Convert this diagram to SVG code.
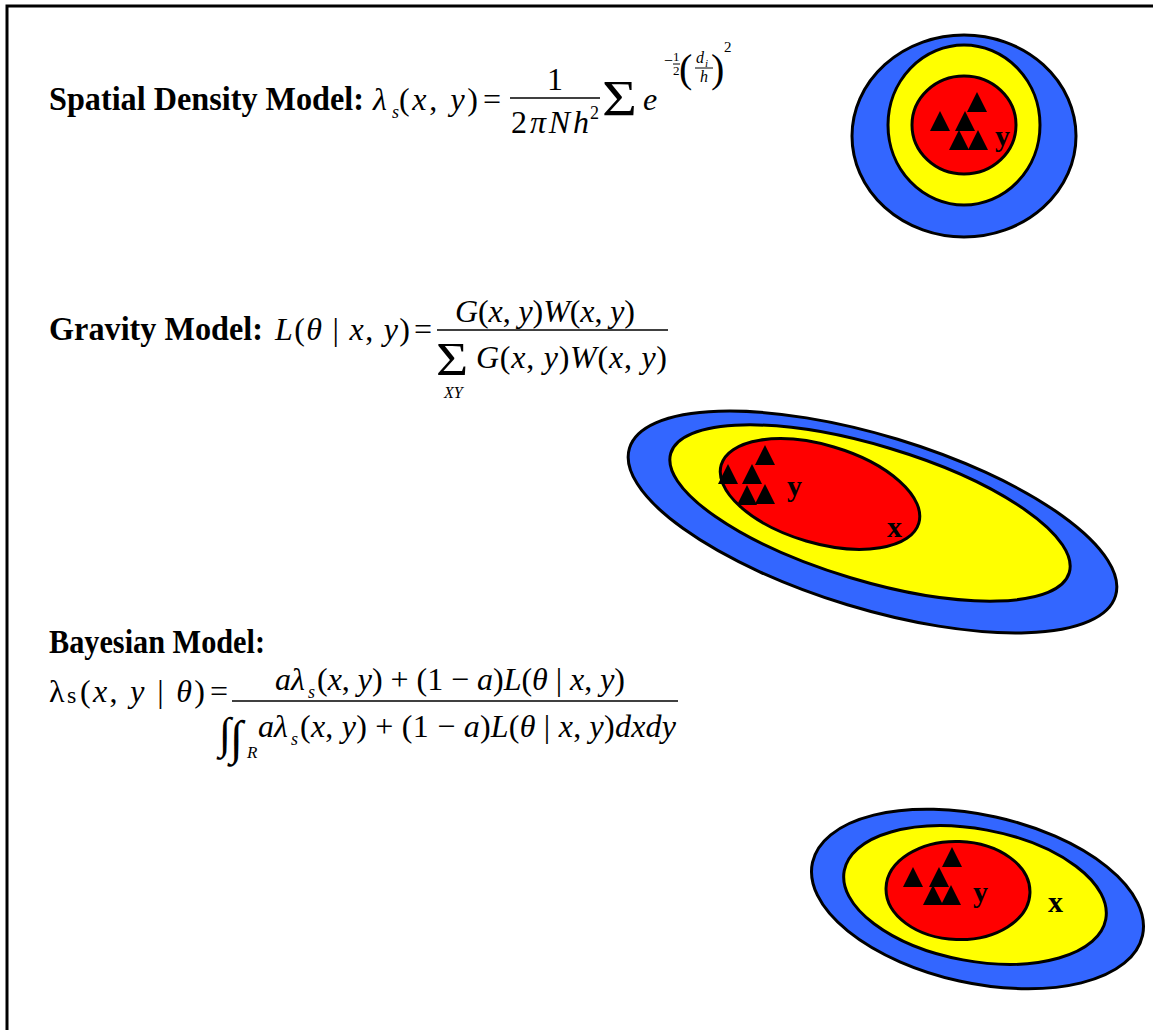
<svg xmlns="http://www.w3.org/2000/svg" width="1153" height="1030" viewBox="0 0 1153 1030">
<defs>
<style>
.s { font-family: "Liberation Serif", "Times New Roman", serif; fill: #000; }
.h { font-weight: bold; font-size: 33px; }
.m { font-size: 32px; }
.i { font-style: italic; }
.lbl { font-family: "Liberation Serif", "Times New Roman", serif; font-weight: bold; font-size: 30px; fill: #000; }
.ring { stroke: #000; stroke-width: 3; }
.blue { fill: #3366FF; }
.yellow { fill: #FFFF00; }
.red { fill: #FF0000; }
.bar { stroke: #000; stroke-width: 1.5; }
</style>
<path id="tri" d="M0,0 L10,20 L-10,20 Z" fill="#000"/>
</defs>
<rect x="0" y="0" width="1153" height="1030" fill="#fff"/>
<path d="M7,1030 V6 H1153" fill="none" stroke="#000" stroke-width="3"/>

<g id="eq-spatial">
<text class="s h" x="49" y="110" textLength="315" lengthAdjust="spacingAndGlyphs">Spatial Density Model:</text>
<text class="s m i" x="373" y="110">λ</text>
<text class="s i" x="392" y="118" font-size="18">s</text>
<text class="s m" x="399" y="110" textLength="79" lengthAdjust="spacing">(<tspan class="i">x</tspan>, <tspan class="i">y</tspan>)</text>
<text class="s m" x="483" y="110">=</text>
<text class="s m" x="555" y="90" text-anchor="middle">1</text>
<line class="bar" x1="510" y1="98" x2="600" y2="98"/>
<text class="s m" x="511" y="133" textLength="78" lengthAdjust="spacing">2<tspan class="i">πNh</tspan></text>
<text class="s" x="590" y="119" font-size="18">2</text>
<text class="s" font-size="50" transform="translate(602 115) scale(1.2 1)">Σ</text>
<text class="s m i" x="643" y="110">e</text>
<text class="s" x="664" y="66" font-size="16">−</text>
<text class="s" x="673" y="61" font-size="13">1</text>
<line x1="673" y1="64" x2="680" y2="64" stroke="#000" stroke-width="1"/>
<text class="s" x="673" y="75" font-size="13">2</text>
<text class="s" x="679" y="82" font-size="40">(</text>
<text class="s i" x="696" y="63" font-size="16">d</text>
<text class="s i" x="705" y="67" font-size="11">i</text>
<line x1="695" y1="68" x2="713" y2="68" stroke="#000" stroke-width="1"/>
<text class="s i" x="700" y="82" font-size="16">h</text>
<text class="s" x="711" y="82" font-size="40">)</text>
<text class="s" x="724" y="52" font-size="15">2</text>
</g>

<g id="eq-gravity">
<text class="s h" x="49" y="340" textLength="214" lengthAdjust="spacingAndGlyphs">Gravity Model:</text>
<text class="s m" x="275" y="340" textLength="135" lengthAdjust="spacing"><tspan class="i">L</tspan>(<tspan class="i">θ</tspan> | <tspan class="i">x</tspan>, <tspan class="i">y</tspan>)</text>
<text class="s m" x="414" y="340">=</text>
<text class="s m" x="455" y="322" textLength="180" lengthAdjust="spacing"><tspan class="i">G</tspan>(<tspan class="i">x</tspan>, <tspan class="i">y</tspan>)<tspan class="i">W</tspan>(<tspan class="i">x</tspan>, <tspan class="i">y</tspan>)</text>
<line class="bar" x1="437" y1="330" x2="668" y2="330"/>
<text class="s" font-size="46" transform="translate(436 375) scale(1.2 1)">Σ</text>
<text class="s i" x="444" y="398" font-size="16">XY</text>
<text class="s m" x="476" y="368" textLength="191" lengthAdjust="spacing"><tspan class="i">G</tspan>(<tspan class="i">x</tspan>, <tspan class="i">y</tspan>)<tspan class="i">W</tspan>(<tspan class="i">x</tspan>, <tspan class="i">y</tspan>)</text>
</g>

<g id="eq-bayesian">
<text class="s h" x="49" y="653" textLength="216" lengthAdjust="spacingAndGlyphs">Bayesian Model:</text>
<text class="s m" x="49" y="702">λ</text>
<text class="s" x="67" y="703" font-size="24">s</text>
<text class="s m" x="80" y="702" textLength="125" lengthAdjust="spacing">(<tspan class="i">x</tspan>, <tspan class="i">y</tspan> | <tspan class="i">θ</tspan>)</text>
<text class="s m" x="210" y="702">=</text>
<text class="s m i" x="275" y="690">a</text>
<text class="s m i" x="291" y="690">λ</text>
<text class="s i" x="308" y="698" font-size="18">s</text>
<text class="s m" x="317" y="690" textLength="308" lengthAdjust="spacing">(<tspan class="i">x</tspan>, <tspan class="i">y</tspan>) + (1 − <tspan class="i">a</tspan>)<tspan class="i">L</tspan>(<tspan class="i">θ</tspan> | <tspan class="i">x</tspan>, <tspan class="i">y</tspan>)</text>
<line class="bar" x1="232" y1="701" x2="678" y2="701"/>
<text class="s" x="219" y="748" font-size="44">∫</text>
<text class="s" x="230" y="754" font-size="48">∫</text>
<text class="s i" x="247" y="758" font-size="17">R</text>
<text class="s m i" x="258" y="737">a</text>
<text class="s m i" x="274" y="737">λ</text>
<text class="s i" x="291" y="745" font-size="18">s</text>
<text class="s m" x="300" y="737" textLength="376" lengthAdjust="spacing">(<tspan class="i">x</tspan>, <tspan class="i">y</tspan>) + (1 − <tspan class="i">a</tspan>)<tspan class="i">L</tspan>(<tspan class="i">θ</tspan> | <tspan class="i">x</tspan>, <tspan class="i">y</tspan>)<tspan class="i">dxdy</tspan></text>
</g>

<g id="target-spatial">
<ellipse class="ring blue" cx="964" cy="136" rx="112" ry="101"/>
<ellipse class="ring yellow" cx="964" cy="125" rx="76" ry="80"/>
<ellipse class="ring red" cx="964" cy="125" rx="52" ry="49"/>
<use href="#tri" x="977" y="92"/>
<use href="#tri" x="940" y="111"/>
<use href="#tri" x="965" y="111"/>
<use href="#tri" x="959" y="130"/>
<use href="#tri" x="978" y="130"/>
<text class="lbl" x="995" y="146">y</text>
</g>

<g id="target-gravity">
<ellipse class="ring blue" cx="0" cy="0" rx="254" ry="86.5" transform="translate(872.5 522) rotate(16.9)"/>
<ellipse class="ring yellow" cx="0" cy="0" rx="208" ry="67.6" transform="translate(870 513) rotate(16.7)"/>
<ellipse class="ring red" cx="0" cy="0" rx="103" ry="49" transform="translate(820 494) rotate(16.4)"/>
<use href="#tri" x="765" y="445"/>
<use href="#tri" x="728" y="464"/>
<use href="#tri" x="752" y="464"/>
<use href="#tri" x="747" y="485"/>
<use href="#tri" x="765" y="484"/>
<text class="lbl" x="787" y="496">y</text>
<text class="lbl" x="887" y="537">x</text>
</g>

<g id="target-bayesian">
<ellipse class="ring blue" cx="0" cy="0" rx="169" ry="84" transform="translate(977.5 899) rotate(12.5)"/>
<ellipse class="ring yellow" cx="0" cy="0" rx="133" ry="66" transform="translate(975 895) rotate(10.5)"/>
<ellipse class="ring red" cx="0" cy="0" rx="72" ry="49" transform="translate(958 890.5) rotate(2)"/>
<use href="#tri" x="952" y="847"/>
<use href="#tri" x="913" y="867"/>
<use href="#tri" x="939" y="867"/>
<use href="#tri" x="933" y="885"/>
<use href="#tri" x="951" y="885"/>
<text class="lbl" x="973" y="902">y</text>
<text class="lbl" x="1048" y="912">x</text>
</g>

<g id="connectors"/>
</svg>
